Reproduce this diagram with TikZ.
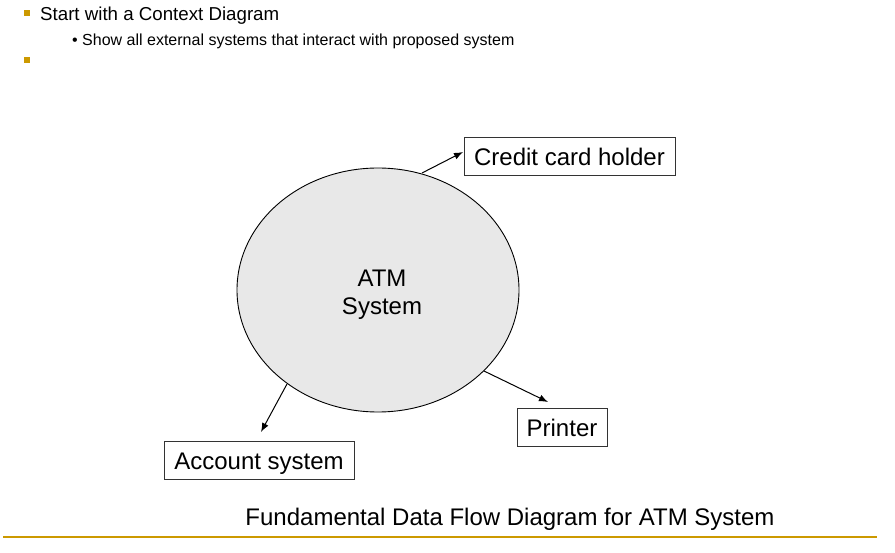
\documentclass[tikz,border=0pt]{standalone}
\usepackage{fontspec}
\setmainfont{Liberation Sans}
\usetikzlibrary{arrows.meta}
\definecolor{gold}{HTML}{CC9900}
\definecolor{ellfill}{HTML}{E8E8E8}
\begin{document}
\begin{tikzpicture}[x=1pt,y=-1pt,
  entity/.style={draw=black!80, line width=1pt, inner xsep=2pt, inner ysep=0pt, minimum height=38pt, text height=20pt, text depth=2pt, font=\fontsize{24}{28}\selectfont},
  flow/.style={draw=black, line width=1pt, -{Latex[length=9pt,width=7pt]}},
  goldsq/.style={fill=gold, draw=none, minimum size=6pt, inner sep=0pt}]
\useasboundingbox (0,0) rectangle (895,553);
% bullets
\node[goldsq] (b1) at (27,13) {};
\node[anchor=base west, inner xsep=0pt, font=\fontsize{18.7}{22}\selectfont] (t1) at (40,21) {Start with a Context Diagram};
\node[anchor=base west, inner xsep=0pt, font=\fontsize{16}{19}\selectfont] (t2) at (72,46) {\textbullet\ Show all external systems that interact with proposed system};
\node[goldsq] (b3) at (27,60) {};
% ellipse
\draw[draw=black, line width=0.9pt, fill=ellfill] (378,290) ellipse [x radius=141, y radius=122];
\node[font=\fontsize{24}{28}\selectfont, align=center] (atm) at (382,295) {ATM\\System};
% entities
\node[entity, minimum width=211pt] (cch) at (569.5,157) {Credit card holder};
\node[entity, minimum width=90pt] (prn) at (562,428) {Printer};
\node[entity, minimum width=190pt] (acc) at (259,460.5) {Account system};
% flows
\coordinate (e1) at (422,173);
\coordinate (e2) at (484,371);
\coordinate (e3) at (287,384);
\coordinate (a1) at (463,152);
\coordinate (a2) at (548,402);
\coordinate (a3) at (261,432);
\draw[flow] (e1) -- (a1);
\draw[flow] (e2) -- (a2);
\draw[flow] (e3) -- (a3);
% caption
\node[anchor=base, font=\fontsize{24}{28}\selectfont] (cap) at (510,525) {Fundamental Data Flow Diagram for ATM System};
\coordinate (l1) at (3,537);
\coordinate (l2) at (877,537);
\draw[gold, line width=2pt] (l1) -- (l2);
\end{tikzpicture}
\end{document}
